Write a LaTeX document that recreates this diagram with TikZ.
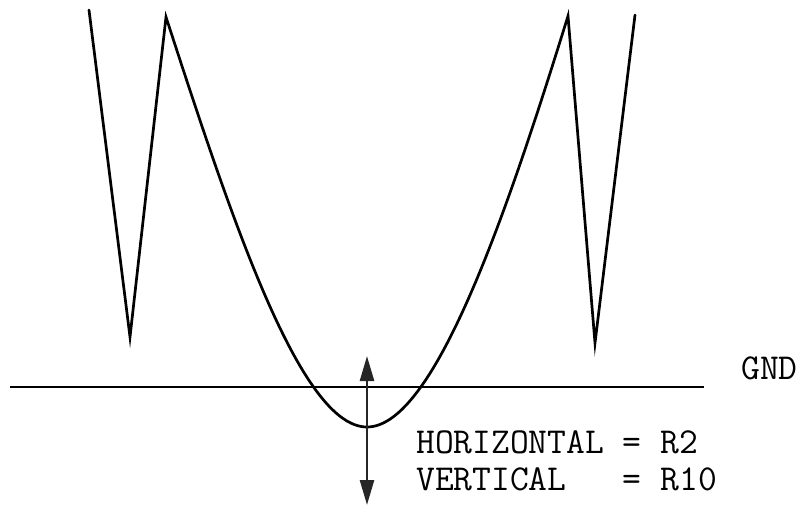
\documentclass[tikz,border=0pt]{standalone}
\usetikzlibrary{arrows.meta}
\begin{document}
\begin{tikzpicture}[x=1pt,y=-1pt,
  trace/.style={line width=2.7pt,line join=miter,line cap=round},
  lbl/.style={inner sep=0pt,anchor=base west,font=\fontsize{36.5}{40}\ttfamily},
  dbl/.style={line width=2.5pt,{Triangle[length=25pt,width=14pt]}-{Triangle[length=25pt,width=14pt]}}]
\useasboundingbox (0,0) rectangle (803,508);
% waveform
\draw[trace] (89,10) -- (130,337) -- (166,17)
  .. controls (231,217) and (300,427) .. (367,427)
  .. controls (434,427) and (506,216) .. (568,16)
  -- (595,343) -- (635,15);
% ground line
\coordinate (g1) at (10,387);
\coordinate (g2) at (704,387);
\draw[line width=2.5pt] (g1) -- (g2);
\node[lbl] (gnd) at (741,379) {GND};
% arrow
\coordinate (at) at (367,356);
\coordinate (ab) at (367,505);
\draw[dbl,draw=black!85,fill=black!85] (at) -- (ab);
% labels
\node[lbl] (h) at (416,453) {HORIZONTAL = R2};
\node[lbl] (v) at (416,490) {VERTICAL\ \ \ = R10};
\end{tikzpicture}
\end{document}
